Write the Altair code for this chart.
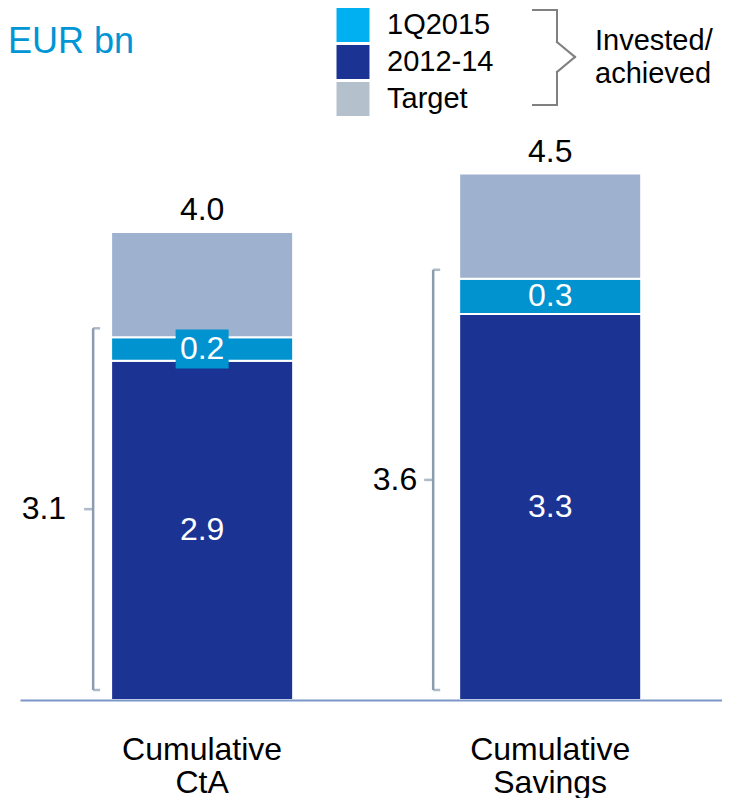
import altair as alt
import pandas as pd

# ---- data ----
categories = ["Cumulative CtA", "Cumulative Savings"]
achieved_2012_14 = [2.9, 3.3]
invested_1q2015 = [0.2, 0.3]
invested_total = [3.1, 3.6]
target_total = [4.0, 4.5]
series_names = ["1Q2015", "2012-14", "Target"]

# ---- styles ----
FONT = "Liberation Sans"
DARK = "#1b3393"
MID = "#0093d0"
TGT = "#9eb1cf"
BAR_COLORS = [MID, DARK, TGT]
LEG_COLORS = ["#00b0f0", "#1b3393", "#b4c0cc"]
BRACKET = "#8b9cb0"
LEG_BRACKET = "#808080"
TITLE_BLUE = "#0095d5"

W, H = 702, 585
HALF_BAND = 91  # half of the band width (pixels) for offsets from band centre

seg_rows = []
for c, b, q, inv, t in zip(categories, achieved_2012_14, invested_1q2015,
                           invested_total, target_total):
    seg_rows.append(dict(cat=c, series="2012-14", value=b, ord=0, mid=b / 2,
                         label=f"{b:.1f}"))
    seg_rows.append(dict(cat=c, series="1Q2015", value=q, ord=1, mid=b + q / 2,
                         label=f"{q:.1f}"))
    seg_rows.append(dict(cat=c, series="Target", value=round(t - inv, 3), ord=2,
                         mid=inv + (t - inv) / 2, label=""))
seg = pd.DataFrame(seg_rows)

summ = pd.DataFrame(dict(
    cat=categories,
    invested=invested_total,
    target=target_total,
    half=[v / 2 for v in invested_total],
    zero=[0.0 for _ in categories],
    inv_label=[f"{v:.1f}" for v in invested_total],
    tgt_label=[f"{v:.1f}" for v in target_total],
))

xaxis = alt.Axis(
    title=None, labelExpr="split(datum.label, ' ')", labelFont=FONT,
    labelFontSize=32, labelColor="black", labelPadding=34, labelLineHeight=33,
    ticks=False, tickSize=0, domainColor="#7b97c7", domainWidth=2,
    labelAngle=0, zindex=1, grid=False,
)
xscale = alt.Scale(domain=categories, paddingInner=0.477, paddingOuter=0.247,
                   align=0.53)
yscale = alt.Scale(domain=[0, 5], nice=False, zero=True)


def X(**kw):
    return alt.X("cat:N", scale=xscale, axis=xaxis, title=None,
                 sort=categories, **kw)


def Y(field, **kw):
    return alt.Y(field, scale=yscale, axis=None, title=None, **kw)


bars = alt.Chart(seg).mark_bar(stroke="white", strokeWidth=2).encode(
    x=X(),
    y=Y("value:Q", stack="zero"),
    color=alt.Color("series:N",
                    scale=alt.Scale(domain=series_names, range=BAR_COLORS),
                    legend=None),
    order=alt.Order("ord:Q", sort="ascending"),
)

# label box for a segment too thin to hold its label
box = alt.Chart(seg).transform_filter(
    "datum.series == '1Q2015' && datum.value < 0.25"
).mark_point(
    shape="M-1,-0.736L1,-0.736L1,0.736L-1,0.736Z", size=2809, filled=True,
    color=MID, opacity=1, strokeWidth=0,
).encode(x=X(), y=Y("mid:Q"))

seg_labels = alt.Chart(seg).transform_filter(
    "datum.series != 'Target'"
).mark_text(color="white", fontSize=32, font=FONT, baseline="middle").encode(
    x=X(), y=Y("mid:Q"), text="label:N"
)

tgt_labels = alt.Chart(summ).mark_text(
    color="black", fontSize=32, font=FONT, baseline="alphabetic", dy=-12
).encode(x=X(), y=Y("target:Q"), text="tgt_label:N")

# brackets for the invested/achieved totals (offsets from band centre)
offsets = {
    "Cumulative CtA": dict(line=-18, label=-45),
    "Cumulative Savings": dict(line=-26, label=-42),
}
TOP_OFF, BOT_OFF = -9, -10
MID_OFF = (TOP_OFF + BOT_OFF) / 2
bracket_layers = []
for c in categories:
    d = summ[summ["cat"] == c]
    o = offsets[c]
    lx = o["line"] - HALF_BAND
    base = alt.Chart(d)
    bracket_layers.append(
        base.mark_rule(color=BRACKET, strokeWidth=2.5, xOffset=lx,
                       yOffset=TOP_OFF, y2Offset=BOT_OFF).encode(
            x=X(), y=Y("invested:Q"), y2="zero:Q")
    )
    bracket_layers.append(
        base.mark_tick(orient="horizontal", size=7, thickness=2.5,
                       color=BRACKET, xOffset=lx + 3.5,
                       yOffset=TOP_OFF).encode(x=X(), y=Y("invested:Q"))
    )
    bracket_layers.append(
        base.mark_tick(orient="horizontal", size=7, thickness=2.5,
                       color=BRACKET, xOffset=lx + 3.5,
                       yOffset=BOT_OFF).encode(x=X(), y=Y("zero:Q"))
    )
    bracket_layers.append(
        base.mark_tick(orient="horizontal", size=9, thickness=2.5,
                       color=BRACKET, xOffset=lx - 4.5,
                       yOffset=MID_OFF).encode(x=X(), y=Y("half:Q"))
    )
    bracket_layers.append(
        base.mark_text(align="right", baseline="middle",
                       dx=o["label"] - HALF_BAND, dy=MID_OFF,
                       fontSize=32, font=FONT, color="black").encode(
            x=X(), y=Y("half:Q"), text="inv_label:N")
    )

# legend (own colour scale, swatch colours as in the reference)
legend_layer = alt.Chart(seg).mark_point(filled=True, size=0).encode(
    x=X(), y=Y("mid:Q"),
    color=alt.Color(
        "series:N",
        scale=alt.Scale(domain=series_names, range=LEG_COLORS),
        legend=alt.Legend(
            title=None, orient="none", legendX=316, legendY=-107,
            symbolType="M-0.97,-1L0.97,-1L0.97,1L-0.97,1Z", symbolSize=1156,
            symbolStrokeWidth=0, symbolOpacity=1, labelFont=FONT,
            labelFontSize=29, labelColor="black", labelOffset=17,
            rowPadding=3, padding=0, labelLimit=300,
        ),
    ),
)

dummy = pd.DataFrame({"a": [0]})
annot = []
annot.append(alt.Chart(dummy).mark_text(
    align="left", baseline="alphabetic", fontSize=36, font=FONT,
    color=TITLE_BLUE).encode(x=alt.value(-12), y=alt.value(-62),
                             text=alt.value("EUR bn")))
annot.append(alt.Chart(dummy).mark_text(
    align="left", baseline="alphabetic", fontSize=29, font=FONT,
    color="black").encode(x=alt.value(575), y=alt.value(-65),
                          text=alt.value("Invested/")))
annot.append(alt.Chart(dummy).mark_text(
    align="left", baseline="alphabetic", fontSize=29, font=FONT,
    color="black").encode(x=alt.value(575), y=alt.value(-32),
                          text=alt.value("achieved")))

brace_pts = [(513, -105), (537, -105), (537, -73), (555, -58), (537, -43),
             (537, -10), (513, -10)]
for (x1, y1), (x2, y2) in zip(brace_pts[:-1], brace_pts[1:]):
    annot.append(alt.Chart(dummy).mark_rule(
        color=LEG_BRACKET, strokeWidth=2, strokeCap="square").encode(
        x=alt.value(x1), x2=alt.value(x2), y=alt.value(y1), y2=alt.value(y2)))

chart = alt.layer(
    bars, box, seg_labels, tgt_labels, *bracket_layers, legend_layer, *annot
).resolve_scale(color="independent").properties(
    width=W, height=H,
    autosize=alt.AutoSizeParams(type="none"),
    padding={"left": 12, "top": 107, "right": 0, "bottom": 98},
).configure_view(stroke=None)

chart.save("out.html", embed_options={"renderer": "svg", "actions": False})
